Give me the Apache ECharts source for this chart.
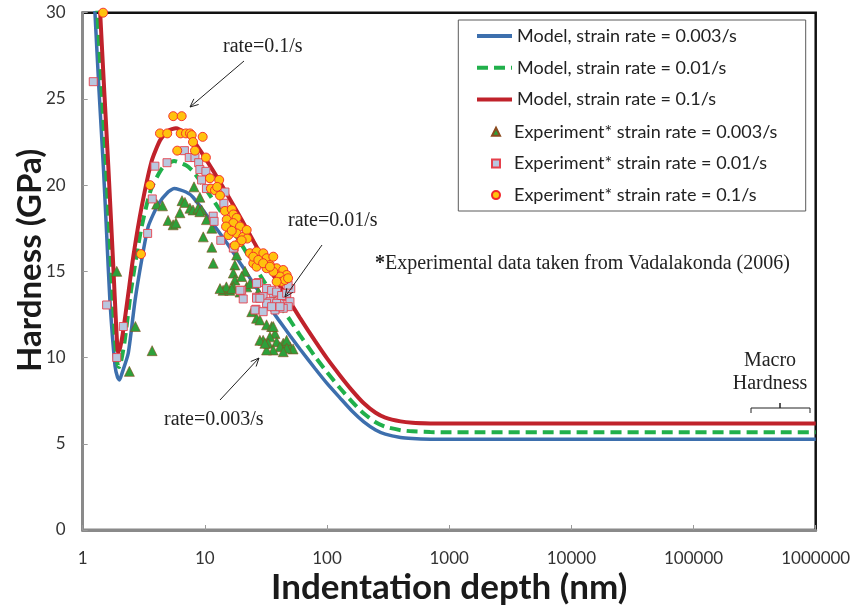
<!DOCTYPE html>
<html><head><meta charset="utf-8">
<script src="https://cdn.jsdelivr.net/npm/echarts@6/dist/echarts.min.js"></script>
<style>html,body{margin:0;padding:0;background:#fff}#c{width:854px;height:612px}</style>
</head><body><div id="c"></div>
<script>
// ---- names ----
const seriesNames = [
  'Model, strain rate = 0.003/s',
  'Model, strain rate = 0.01/s',
  'Model, strain rate = 0.1/s',
  'Experiment* strain rate = 0.003/s',
  'Experiment* strain rate = 0.01/s',
  'Experiment* strain rate = 0.1/s'
];
const yTicks = [0, 5, 10, 15, 20, 25, 30];
const xTicks = [1, 10, 100, 1000, 10000, 100000, 1000000];

// ---- model curves [depth nm, hardness GPa] ----
const model0003 = [[1.15,35.6],[1.26,30],[1.36,25.5],[1.475,21.1],[1.57,17.2],[1.67,13.3],[1.84,9.5],[1.93,8.85],[2.0,8.7],[2.1,9.1],[2.36,10.25],[2.68,13.3],[3.04,15.66],[3.44,17.6],[4.16,18.9],[5.0,19.6],[5.6,19.8],[7,19.6],[8,19.3],[10,18.4],[13,17.3],[16,16.4],[20,15.35],[25,14.3],[30,13.45],[40,12.2],[50,11.25],[60,10.5],[80,9.35],[100,8.5],[128,7.65],[160,6.9],[200,6.27],[250,5.8],[300,5.56],[400,5.37],[500,5.31],[700,5.27],[1000,5.26],[10000,5.26],[100000,5.26],[1000000,5.26]];
const model001 = [[1.2,35.6],[1.32,30],[1.43,25.5],[1.55,21.1],[1.72,14.8],[1.84,11.0],[1.93,9.6],[1.98,9.45],[2.05,9.7],[2.2,10.9],[2.5,14.0],[3.0,17.4],[3.6,19.7],[4.5,21.0],[5.6,21.4],[7,21.15],[8,20.8],[10,19.85],[13,18.65],[16,17.65],[20,16.55],[25,15.4],[30,14.5],[40,13.15],[50,12.15],[60,11.3],[80,10.05],[100,9.15],[128,8.22],[160,7.45],[200,6.75],[250,6.25],[300,5.99],[400,5.79],[500,5.72],[700,5.68],[1000,5.67],[10000,5.67],[100000,5.67],[1000000,5.67]];
const model01 = [[1.26,36],[1.39,30],[1.50,25.5],[1.62,21.1],[1.78,15.3],[1.88,11.8],[1.95,10.3],[2.03,10.6],[2.15,11.6],[2.35,13.6],[2.6,15.9],[3.04,18.75],[3.67,21.4],[4.3,22.6],[5.0,23.15],[5.8,23.3],[7,23.0],[8,22.6],[10,21.6],[13,20.3],[16,19.2],[20,18.0],[25,16.75],[30,15.75],[40,14.3],[50,13.2],[60,12.3],[80,10.95],[100,9.95],[128,8.95],[160,8.1],[200,7.35],[250,6.8],[300,6.52],[400,6.3],[500,6.22],[700,6.18],[1000,6.17],[10000,6.17],[100000,6.17],[1000000,6.17]];

// ---- experiments [depth nm, hardness GPa] ----
const exp0003 = [[1.90,15.0],[2.41,9.2],[2.7,11.8],[3.7,10.4],[4.03,18.9],[4.5,18.8],[5.0,17.95],[5.5,17.7],[5.8,17.8],[6.25,18.4],[6.5,19.1],[6.87,19.0],[7.55,18.66],[8.0,18.56],[8.15,19.9],[8.8,18.66],[9.1,19.3],[9.4,18.56],[10.3,18.0],[9.1,18.46],[9.7,17.0],[11.4,17.5],[11.4,16.4],[11.7,15.47],[18.2,15.95],[17.6,15.37],[17.1,14.9],[17.6,14.5],[21.3,15.0],[20.0,14.7],[14.1,13.9],[16.0,13.9],[17.1,14.1],[15.0,14.1],[19.4,13.8],[13.3,14.0],[22.0,14.1],[16.6,14.0],[23.4,14.3],[27.4,13.8],[24.2,12.66],[26.5,12.28],[28.2,12.18],[32,11.9],[35.2,11.8],[37.5,11.4],[34.1,11.2],[30,11.0],[33,10.83],[38.7,10.92],[43.8,10.83],[49.7,10.63],[46.7,11.0],[41.2,10.63],[36.3,10.44],[32,10.44],[28.2,11.0],[52.7,10.5],[46.7,10.54],[43.8,10.34],[31,10.83],[36.3,11.8]];
const exp001 = [[1.22,26.0],[1.57,13.05],[1.90,10.0],[2.15,11.8],[3.4,17.2],[3.71,19.2],[3.9,21.1],[4.9,21.3],[6.8,22.0],[7.45,21.6],[8.3,21.6],[8.9,21.3],[9.1,20.9],[10.2,20.8],[9.4,20.3],[10.3,19.8],[14.6,19.6],[14.3,18.95],[11.7,18.2],[11.9,17.9],[13.5,16.8],[17.4,16.4],[17.1,16.35],[20.0,13.9],[20.6,13.4],[26.2,12.8],[27.4,14.35],[26.5,13.5],[19.4,13.9],[26.5,14.3],[32,14.0],[36.3,13.73],[30,13.53],[26.5,13.44],[34.1,13.24],[41.2,13.34],[46.7,13.53],[49.7,13.24],[48.2,12.95],[43.8,12.86],[38.7,13.15],[32,13.15],[25.7,12.76],[30,12.66],[37.5,12.76],[35.2,13.9],[38.7,13.8],[42.5,13.6],[46.7,13.73],[28.2,13.44],[35.2,12.95],[41.2,12.95],[50.5,14.0],[48,14.2]];
const exp01 = [[1.47,30.0],[3.0,16.0],[3.56,20.0],[4.29,23.0],[4.92,23.0],[5.51,24.0],[6.46,24.0],[5.94,22.0],[6.34,23.0],[7.0,23.0],[7.55,23.0],[7.8,22.9],[8.0,22.5],[8.3,22.0],[9.6,22.8],[10.2,21.6],[11.0,20.4],[13.1,20.3],[11.2,19.8],[12.1,19.7],[13.3,19.4],[12.6,19.9],[14.6,18.5],[16.6,18.6],[17.1,18.3],[18.2,18.1],[15.1,18.0],[17.1,17.8],[19.4,17.6],[16.0,17.4],[18.2,17.2],[20.6,17.0],[19.4,16.7],[15.6,17.1],[14.9,17.6],[22.0,17.4],[22.2,16.9],[20.0,16.8],[17.6,16.5],[16.6,17.35],[23.4,16.05],[26.5,16.15],[30.1,16.05],[32,15.76],[28.2,15.56],[24.9,15.47],[34.1,15.37],[38.7,15.18],[43.8,15.08],[46.7,14.79],[41.2,14.7],[36.3,14.98],[32,15.18],[26.5,15.27],[42.5,14.4],[45.2,14.5],[38.7,14.4],[24.9,15.85],[27.4,15.66],[36.3,15.85],[30.0,15.47],[34.1,15.27],[48,14.6]];

// ---- annotation texts ----
const noteTexts = ['rate=0.1/s', 'rate=0.01/s', 'rate=0.003/s', 'Macro', 'Hardness'];

const SANS = 'Lato, "Open Sans", sans-serif';
const SERIF = '"Liberation Serif", "DejaVu Serif", serif';
const C_BLUE = '#3D6FAD', C_GREEN = '#21B04B', C_RED = '#C0222B';

function arrow(x1, y1, x2, y2) {
  const a = Math.atan2(y2 - y1, x2 - x1), L = 9, w = 0.42;
  return [
    {type:'line', shape:{x1, y1, x2, y2}, style:{stroke:'#222', lineWidth:1}, z:10},
    {type:'polyline', shape:{points:[[x2 - L*Math.cos(a - w), y2 - L*Math.sin(a - w)], [x2, y2], [x2 - L*Math.cos(a + w), y2 - L*Math.sin(a + w)]]}, style:{stroke:'#222', lineWidth:1, fill:null}, z:10}
  ];
}
function note(text, x, y, align) {
  return {type:'text', x, y, z:10, style:{text, fontFamily:SERIF, fontSize:20, fill:'#222', textAlign:align || 'left', textVerticalAlign:'middle'}};
}

const chart = echarts.init(document.getElementById('c'), null, {renderer:'canvas'});
const lineBase = {type:'line', showSymbol:false, symbol:'none', smooth:0.2, clip:true, z:2};
const legendText = {fontFamily:SANS, fontSize:18, color:'#222', lineHeight:20};
const option = {
  animation:false,
  backgroundColor:'#fff',
  grid:{left:82.7, right:38.3, top:12.7, bottom:82, containLabel:false, outerBoundsMode:'none', show:true, borderColor:'#111', borderWidth:2.5, backgroundColor:'transparent'},
  xAxis:{
    type:'log', logBase:10, min:xTicks[0], max:xTicks[xTicks.length-1],
    axisLine:{show:true, onZero:false, lineStyle:{color:'#8a8a8a', width:3}},
    axisTick:{show:true, inside:true, length:5, lineStyle:{color:'#9a9a9a', width:1}},
    splitLine:{show:false}, minorTick:{show:false},
    axisLabel:{fontFamily:SANS, fontSize:17, color:'#333', margin:20, formatter:v => String(Math.round(v))},
    name:'Indentation depth (nm)', nameLocation:'middle', nameGap:40, nameMoveOverlap:false,
    nameTextStyle:{fontFamily:SANS, fontWeight:'bold', fontSize:35, color:'#1a1a1a'}
  },
  yAxis:{
    type:'value', min:yTicks[0], max:yTicks[yTicks.length-1], interval:5,
    axisLine:{show:true, lineStyle:{color:'#8a8a8a', width:3}},
    axisTick:{show:true, inside:true, length:5, lineStyle:{color:'#9a9a9a', width:1}},
    splitLine:{show:false},
    axisLabel:{fontFamily:SANS, fontSize:17, color:'#333', margin:17},
    name:'Hardness (GPa)', nameLocation:'middle', nameGap:36, nameMoveOverlap:false,
    nameTextStyle:{fontFamily:SANS, fontWeight:'bold', fontSize:33, color:'#1a1a1a', padding:[0,0,0,22]}
  },
  legend:[
    {orient:'vertical', left:475, top:26, padding:0, itemWidth:35, itemHeight:8, itemGap:11.7, z:12,
      textStyle:legendText,
      data:[0,1,2].map(i => ({name:seriesNames[i], itemStyle:{opacity:0}, lineStyle:{width:4}}))},
    {orient:'vertical', left:491, top:121.7, padding:0, itemWidth:8, itemHeight:8, itemGap:11.7, z:12,
      textStyle:Object.assign({padding:[0,0,0,9]}, legendText),
      data:[seriesNames[3], seriesNames[4], seriesNames[5]]}
  ],
  series:[
    Object.assign({}, lineBase, {name:seriesNames[0], data:model0003, lineStyle:{color:C_BLUE, width:3.5}, itemStyle:{color:C_BLUE}}),
    Object.assign({}, lineBase, {name:seriesNames[1], data:model001, lineStyle:{color:C_GREEN, width:4, type:[11,6]}, itemStyle:{color:C_GREEN}}),
    Object.assign({}, lineBase, {name:seriesNames[2], data:model01, lineStyle:{color:C_RED, width:4}, itemStyle:{color:C_RED}}),
    {type:'scatter', name:seriesNames[3], data:exp0003, symbol:'triangle', symbolSize:10, clip:false, z:3,
      itemStyle:{color:'#2DA03A', borderColor:'#8A4A1E', borderWidth:0.6, opacity:1}},
    {type:'scatter', name:seriesNames[4], data:exp001, symbol:'rect', symbolSize:8, clip:false, z:4,
      itemStyle:{color:'#B9C7DF', borderColor:'#E5414C', borderWidth:0.9, opacity:1}},
    {type:'scatter', name:seriesNames[5], data:exp01, symbol:'circle', symbolSize:9, clip:false, z:5,
      itemStyle:{color:'#FFC20E', borderColor:'#F2262A', borderWidth:0.9, opacity:1}}
  ],
  graphic:[].concat(
    [{type:'rect', shape:{x:458.3, y:20, width:347.4, height:191}, style:{fill:'#fff', stroke:'#5a5a5a', lineWidth:1}, z:6}],
    [note(noteTexts[0], 223, 47), note(noteTexts[1], 288, 221), note(noteTexts[2], 164, 420)],
    arrow(244, 61, 190, 107), arrow(322, 245, 285, 297), arrow(220, 400, 259, 358),
    [{type:'text', x:375, y:264, z:10, style:{text:'{b|*}Experimental data taken from Vadalakonda (2006)', fontFamily:SERIF, fontSize:20, fill:'#222', textVerticalAlign:'middle', rich:{b:{fontFamily:SERIF, fontSize:20, fontWeight:'bold', fill:'#222'}}}}],
    [note(noteTexts[3], 770, 361, 'center'), note(noteTexts[4], 770, 384, 'center')],
    [{type:'polyline', shape:{points:[[751,413],[751,408],[780,408],[780,403],[780,408],[810,408],[810,413]]}, style:{stroke:'#222', lineWidth:1, fill:null}, z:10}]
  )
};
chart.setOption(option);
</script></body></html>
